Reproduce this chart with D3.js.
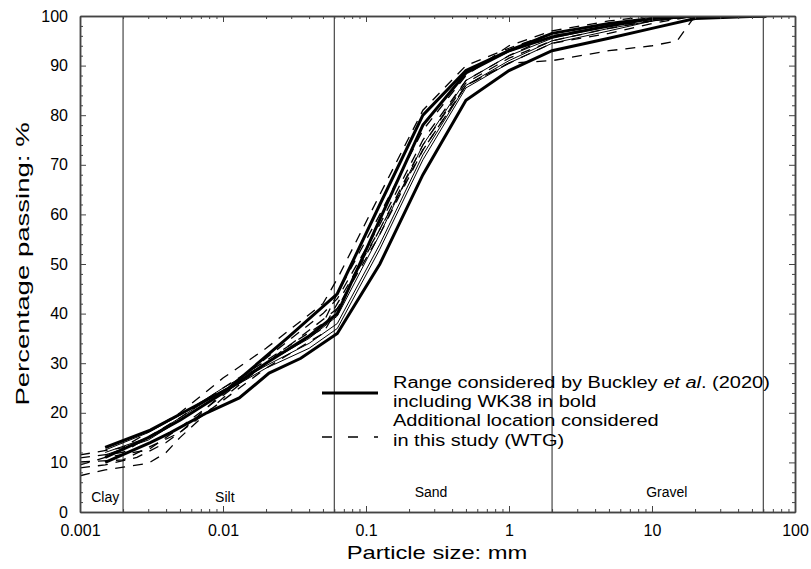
<!DOCTYPE html>
<html>
<head>
<meta charset="utf-8">
<script src="https://cdn.jsdelivr.net/npm/d3@7"></script>
<style>
  body { margin: 0; background: #fff; }
  svg { font-family: "Liberation Sans", Arial, sans-serif; }
</style>
</head>
<body>
<svg id="chart" width="811" height="569"></svg>
<script>
// particle size (mm) / percentage passing
const boldCurves = [
  [[0.0015,13],[0.0031,16.5],[0.0045,19],[0.011,25],[0.028,35],[0.063,44],[0.125,62],[0.25,80],[0.5,89],[1,93],[2,96.5],[5,98.5],[10,99.5],[20,100],[63,100]],
  [[0.0015,10],[0.0031,14],[0.0043,16],[0.0077,20],[0.013,23],[0.021,28],[0.035,31],[0.063,36],[0.125,50],[0.25,68],[0.5,83],[1,89],[2,93],[5,95.5],[10,97.5],[20,99.5],[63,100]],
  [[0.0015,11],[0.003,15],[0.005,18.5],[0.01,24],[0.02,30],[0.04,35.5],[0.063,40],[0.125,59],[0.25,78],[0.5,88.5],[1,93],[2,95.8],[5,98],[10,99.5],[20,100],[63,100]]
];
const thinCurves = [
  [[0.0015,12.5],[0.003,16],[0.005,19.5],[0.01,25],[0.02,30],[0.04,35],[0.063,39.5],[0.125,56],[0.25,74],[0.5,87],[1,92],[2,95.5],[5,98],[10,99.5],[20,100]],
  [[0.0015,12],[0.003,15],[0.005,19],[0.01,24.5],[0.02,29.5],[0.04,34],[0.063,38],[0.125,54],[0.25,72],[0.5,86],[1,91],[2,95],[5,97.5],[10,99],[20,100]],
  [[0.0015,11.5],[0.003,14.5],[0.005,18.5],[0.01,24],[0.02,29],[0.04,33],[0.063,37],[0.125,53],[0.25,71],[0.5,85.5],[1,90.5],[2,94.5],[5,97],[10,99],[20,100]]
];
const dashedCurves = [
  [[0.001,11.5],[0.002,13],[0.005,20],[0.01,27],[0.02,33],[0.05,42],[0.063,47],[0.125,64],[0.25,81],[0.5,90],[1,93.5],[2,96.5],[5,98.5],[10,99.5],[20,100]],
  [[0.001,10.9],[0.002,12],[0.005,19],[0.01,25],[0.02,30.5],[0.05,38],[0.063,44],[0.125,60],[0.25,77],[0.5,88],[1,94],[2,97],[5,99],[10,100]],
  [[0.001,10.1],[0.002,10.5],[0.003,13],[0.005,16],[0.01,24],[0.02,31],[0.05,40],[0.063,43],[0.125,58],[0.25,75],[0.5,87],[1,92],[2,96],[5,98],[20,100]],
  [[0.001,9.5],[0.0015,11],[0.003,12.5],[0.005,17],[0.01,23.5],[0.02,30],[0.05,37],[0.063,42],[0.125,57],[0.25,74],[0.5,86.5],[1,91.5],[2,95],[5,97.5],[10,99],[20,100]],
  [[0.001,8.9],[0.0015,9.5],[0.0025,11],[0.004,14],[0.01,22.5],[0.02,29],[0.05,36],[0.063,41],[0.125,56],[0.25,73],[0.5,86],[1,90.5],[2,94.5],[5,96.5],[10,98.5],[20,100]],
  [[0.001,7.3],[0.0015,8.5],[0.003,9.8],[0.004,12],[0.005,15],[0.01,23],[0.02,30],[0.063,41],[0.125,57],[0.25,73],[0.5,86],[1,90.5],[2,91],[5,93],[10,94],[15,95],[20,100]]
];
const xTicks = [0.001, 0.01, 0.1, 1, 10, 100];
const yTicks = [0, 10, 20, 30, 40, 50, 60, 70, 80, 90, 100];
const boundaries = [0.002, 0.06, 2, 60];
const zones = [
  { name: "Clay", x: 0.0015, y: 2 },
  { name: "Silt", x: 0.0103, y: 2 },
  { name: "Sand", x: 0.285, y: 3 },
  { name: "Gravel", x: 12.7, y: 3 }
];
const legendItems = [
  { lines: ["Range considered by Buckley et al. (2020)", "including WK38 in bold"], dash: null },
  { lines: ["Additional location considered", "in this study (WTG)"], dash: "10,16" }
];

const svg = d3.select("#chart");
const X_SCALE = d3.scaleLog().domain([0.001, 100]).range([80, 795]);
const Y_SCALE = d3.scaleLinear().domain([0, 100]).range([512, 16]);

const minorX = [];
for (let e = -3; e < 2; e++) {
  for (let m = 2; m <= 9; m++) minorX.push(m * Math.pow(10, e));
}
const minorY = d3.range(0, 101, 2).filter(v => v % 10 !== 0);

const plot = svg.append("g");
plot.append("clipPath").attr("id", "clip")
  .append("rect")
  .attr("x", 80).attr("y", 16).attr("width", 715).attr("height", 496);

// zone boundaries
plot.selectAll(".boundary")
  .data(boundaries)
  .enter()
  .append("line")
  .classed("boundary", true)
  .attr("x1", d => X_SCALE(d)).attr("x2", d => X_SCALE(d))
  .attr("y1", Y_SCALE(0)).attr("y2", Y_SCALE(100))
  .attr("stroke", "#222").attr("stroke-width", 1);

plot.selectAll(".zone")
  .data(zones)
  .enter()
  .append("text")
  .classed("zone", true)
  .attr("x", d => X_SCALE(d.x))
  .attr("y", d => Y_SCALE(d.y))
  .attr("text-anchor", "middle")
  .attr("font-size", 14)
  .text(d => d.name);

const line = d3.line()
  .x(d => X_SCALE(d[0]))
  .y(d => Y_SCALE(d[1]));

const curves = plot.append("g").attr("clip-path", "url(#clip)");

curves.selectAll(".dashed")
  .data(dashedCurves)
  .enter()
  .append("path")
  .classed("dashed", true)
  .attr("d", line)
  .attr("fill", "none")
  .attr("stroke", "#000")
  .attr("stroke-width", 1.3)
  .attr("stroke-dasharray", "10,8");

curves.selectAll(".thin")
  .data(thinCurves)
  .enter()
  .append("path")
  .classed("thin", true)
  .attr("d", line)
  .attr("fill", "none")
  .attr("stroke", "#000")
  .attr("stroke-width", 1);

curves.selectAll(".bold")
  .data(boldCurves)
  .enter()
  .append("path")
  .classed("bold", true)
  .attr("d", line)
  .attr("fill", "none")
  .attr("stroke", "#000")
  .attr("stroke-width", 3);

// axes, ticks pointing inward on all four sides
function styleAxis(g) {
  g.selectAll(".domain").attr("stroke", "#444").attr("stroke-width", 1.5);
  g.selectAll(".tick line").attr("stroke", "#444");
  g.selectAll("text").attr("font-size", 16).attr("fill", "#000")
    .attr("font-family", "Liberation Sans, Arial, sans-serif");
}

const fmt = d => String(d);

svg.append("g")
  .attr("transform", `translate(0, ${Y_SCALE(0)})`)
  .call(d3.axisBottom(X_SCALE).tickValues(xTicks).tickFormat(fmt).tickSize(-6).tickSizeOuter(0).tickPadding(13))
  .call(styleAxis);
svg.append("g")
  .attr("transform", `translate(0, ${Y_SCALE(0)})`)
  .call(d3.axisBottom(X_SCALE).tickValues(minorX).tickFormat("").tickSize(-3).tickSizeOuter(0))
  .call(styleAxis);
svg.append("g")
  .attr("transform", `translate(0, ${Y_SCALE(100)})`)
  .call(d3.axisTop(X_SCALE).tickValues(xTicks).tickFormat("").tickSize(-6).tickSizeOuter(0))
  .call(styleAxis);
svg.append("g")
  .attr("transform", `translate(0, ${Y_SCALE(100)})`)
  .call(d3.axisTop(X_SCALE).tickValues(minorX).tickFormat("").tickSize(-3).tickSizeOuter(0))
  .call(styleAxis);

svg.append("g")
  .attr("transform", `translate(${X_SCALE(0.001)}, 0)`)
  .call(d3.axisLeft(Y_SCALE).tickValues(yTicks).tickSize(-6).tickSizeOuter(0).tickPadding(12))
  .call(styleAxis);
svg.append("g")
  .attr("transform", `translate(${X_SCALE(0.001)}, 0)`)
  .call(d3.axisLeft(Y_SCALE).tickValues(minorY).tickFormat("").tickSize(-3).tickSizeOuter(0))
  .call(styleAxis);
svg.append("g")
  .attr("transform", `translate(${X_SCALE(100)}, 0)`)
  .call(d3.axisRight(Y_SCALE).tickValues(yTicks).tickFormat("").tickSize(-6).tickSizeOuter(0))
  .call(styleAxis);
svg.append("g")
  .attr("transform", `translate(${X_SCALE(100)}, 0)`)
  .call(d3.axisRight(Y_SCALE).tickValues(minorY).tickFormat("").tickSize(-3).tickSizeOuter(0))
  .call(styleAxis);

// axis titles (the source font runs wider than Arial)
svg.append("text")
  .attr("transform", "translate(437, 559) scale(1.25, 1)")
  .attr("text-anchor", "middle")
  .attr("font-size", 19)
  .text("Particle size: mm");
svg.append("text")
  .attr("transform", "translate(29, 264) rotate(-90) scale(1.45, 1)")
  .attr("text-anchor", "middle")
  .attr("font-size", 19)
  .text("Percentage passing: %");

// legend
const legend = svg.append("g");
const legendY = [393, 437];
const textY = [[388, 407], [426, 446]];

legendItems.forEach((item, i) => {
  legend.append("line")
    .attr("x1", 322).attr("x2", 378)
    .attr("y1", legendY[i]).attr("y2", legendY[i])
    .attr("stroke", "#000")
    .attr("stroke-width", item.dash ? 1.3 : 3)
    .attr("stroke-dasharray", item.dash);

  item.lines.forEach((txt, j) => {
    const t = legend.append("text")
      .attr("transform", `translate(393, ${textY[i][j]}) scale(1.25, 1)`)
      .attr("font-size", 16);
    if (txt.includes("et al.")) {
      const parts = txt.split("et al.");
      t.append("tspan").text(parts[0]);
      t.append("tspan").attr("font-style", "italic").text("et al");
      t.append("tspan").text("." + parts[1]);
    } else {
      t.text(txt);
    }
  });
});
</script>
</body>
</html>
